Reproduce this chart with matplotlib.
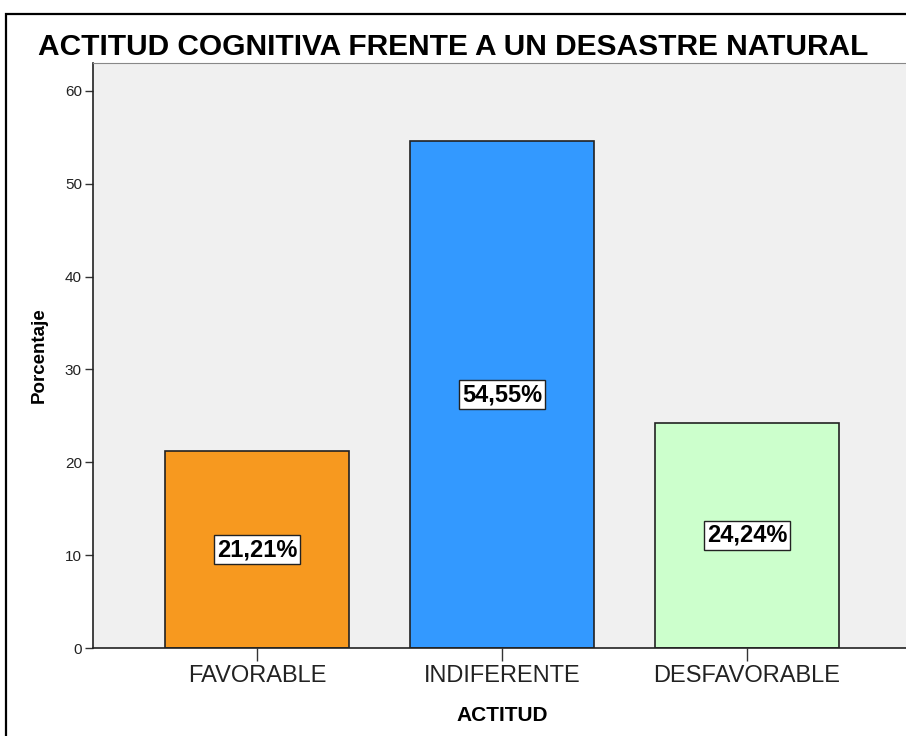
import matplotlib.pyplot as plt
from matplotlib.patches import Rectangle

categories = ["FAVORABLE", "INDIFERENTE", "DESFAVORABLE"]
percentages = [21.21, 54.55, 24.24]
value_labels = ["21,21%", "54,55%", "24,24%"]
bar_colors = ["#F7991F", "#3399FF", "#CCFFCC"]
y_ticks = [0, 10, 20, 30, 40, 50, 60]

plt.rcParams["font.family"] = ["Liberation Sans", "DejaVu Sans"]

W, H = 906, 736
fig = plt.figure(figsize=(W / 100, H / 100), dpi=100)

# outer frame (cropped at the right and bottom like the original export)
fig.patches.append(Rectangle((6 / W, -0.05), 1.2, 1 - 14 / H + 0.05,
                             transform=fig.transFigure, fill=False,
                             edgecolor="black", linewidth=1.6))

ax = fig.add_axes([93 / W, (H - 648) / H, (911 - 93) / W, (648 - 63) / H])
ax.set_facecolor("#F0F0F0")

x = range(len(categories))
ax.bar(x, percentages, width=0.75, color=bar_colors, edgecolor="#222222",
       linewidth=1.2, zorder=2)

for i, (val, lab) in enumerate(zip(percentages, value_labels)):
    ax.text(i, val / 2, lab, ha="center", va="center", fontsize=17,
            fontweight="bold", zorder=3,
            bbox=dict(boxstyle="square,pad=0.12", facecolor="white",
                      edgecolor="#222222", linewidth=1))

ax.set_xlim(-0.67, 2.67)
ax.set_ylim(0, 63)
ax.set_yticks(y_ticks)
ax.set_xticks(list(x))
ax.set_xticklabels(categories, fontsize=17, color="#222222")
ax.tick_params(axis="y", labelsize=11, length=6, width=1, color="#333333",
               labelcolor="#222222", pad=2)
ax.tick_params(axis="x", length=9, width=1, color="#333333", pad=3)

for side in ["left", "bottom"]:
    ax.spines[side].set_color("#222222")
    ax.spines[side].set_linewidth(1.2)
ax.spines["top"].set_color("#888888")
ax.spines["right"].set_visible(False)

ax.set_ylabel("Porcentaje", fontsize=13.5, fontweight="bold", labelpad=12)
ax.set_xlabel("ACTITUD", fontsize=15, fontweight="bold", labelpad=14)

fig.text(453 / W, 1 - 47 / H, "ACTITUD COGNITIVA FRENTE A UN DESASTRE NATURAL",
         ha="center", va="center", fontsize=21.5, fontweight="bold")

fig.savefig("out.png", dpi=100)
